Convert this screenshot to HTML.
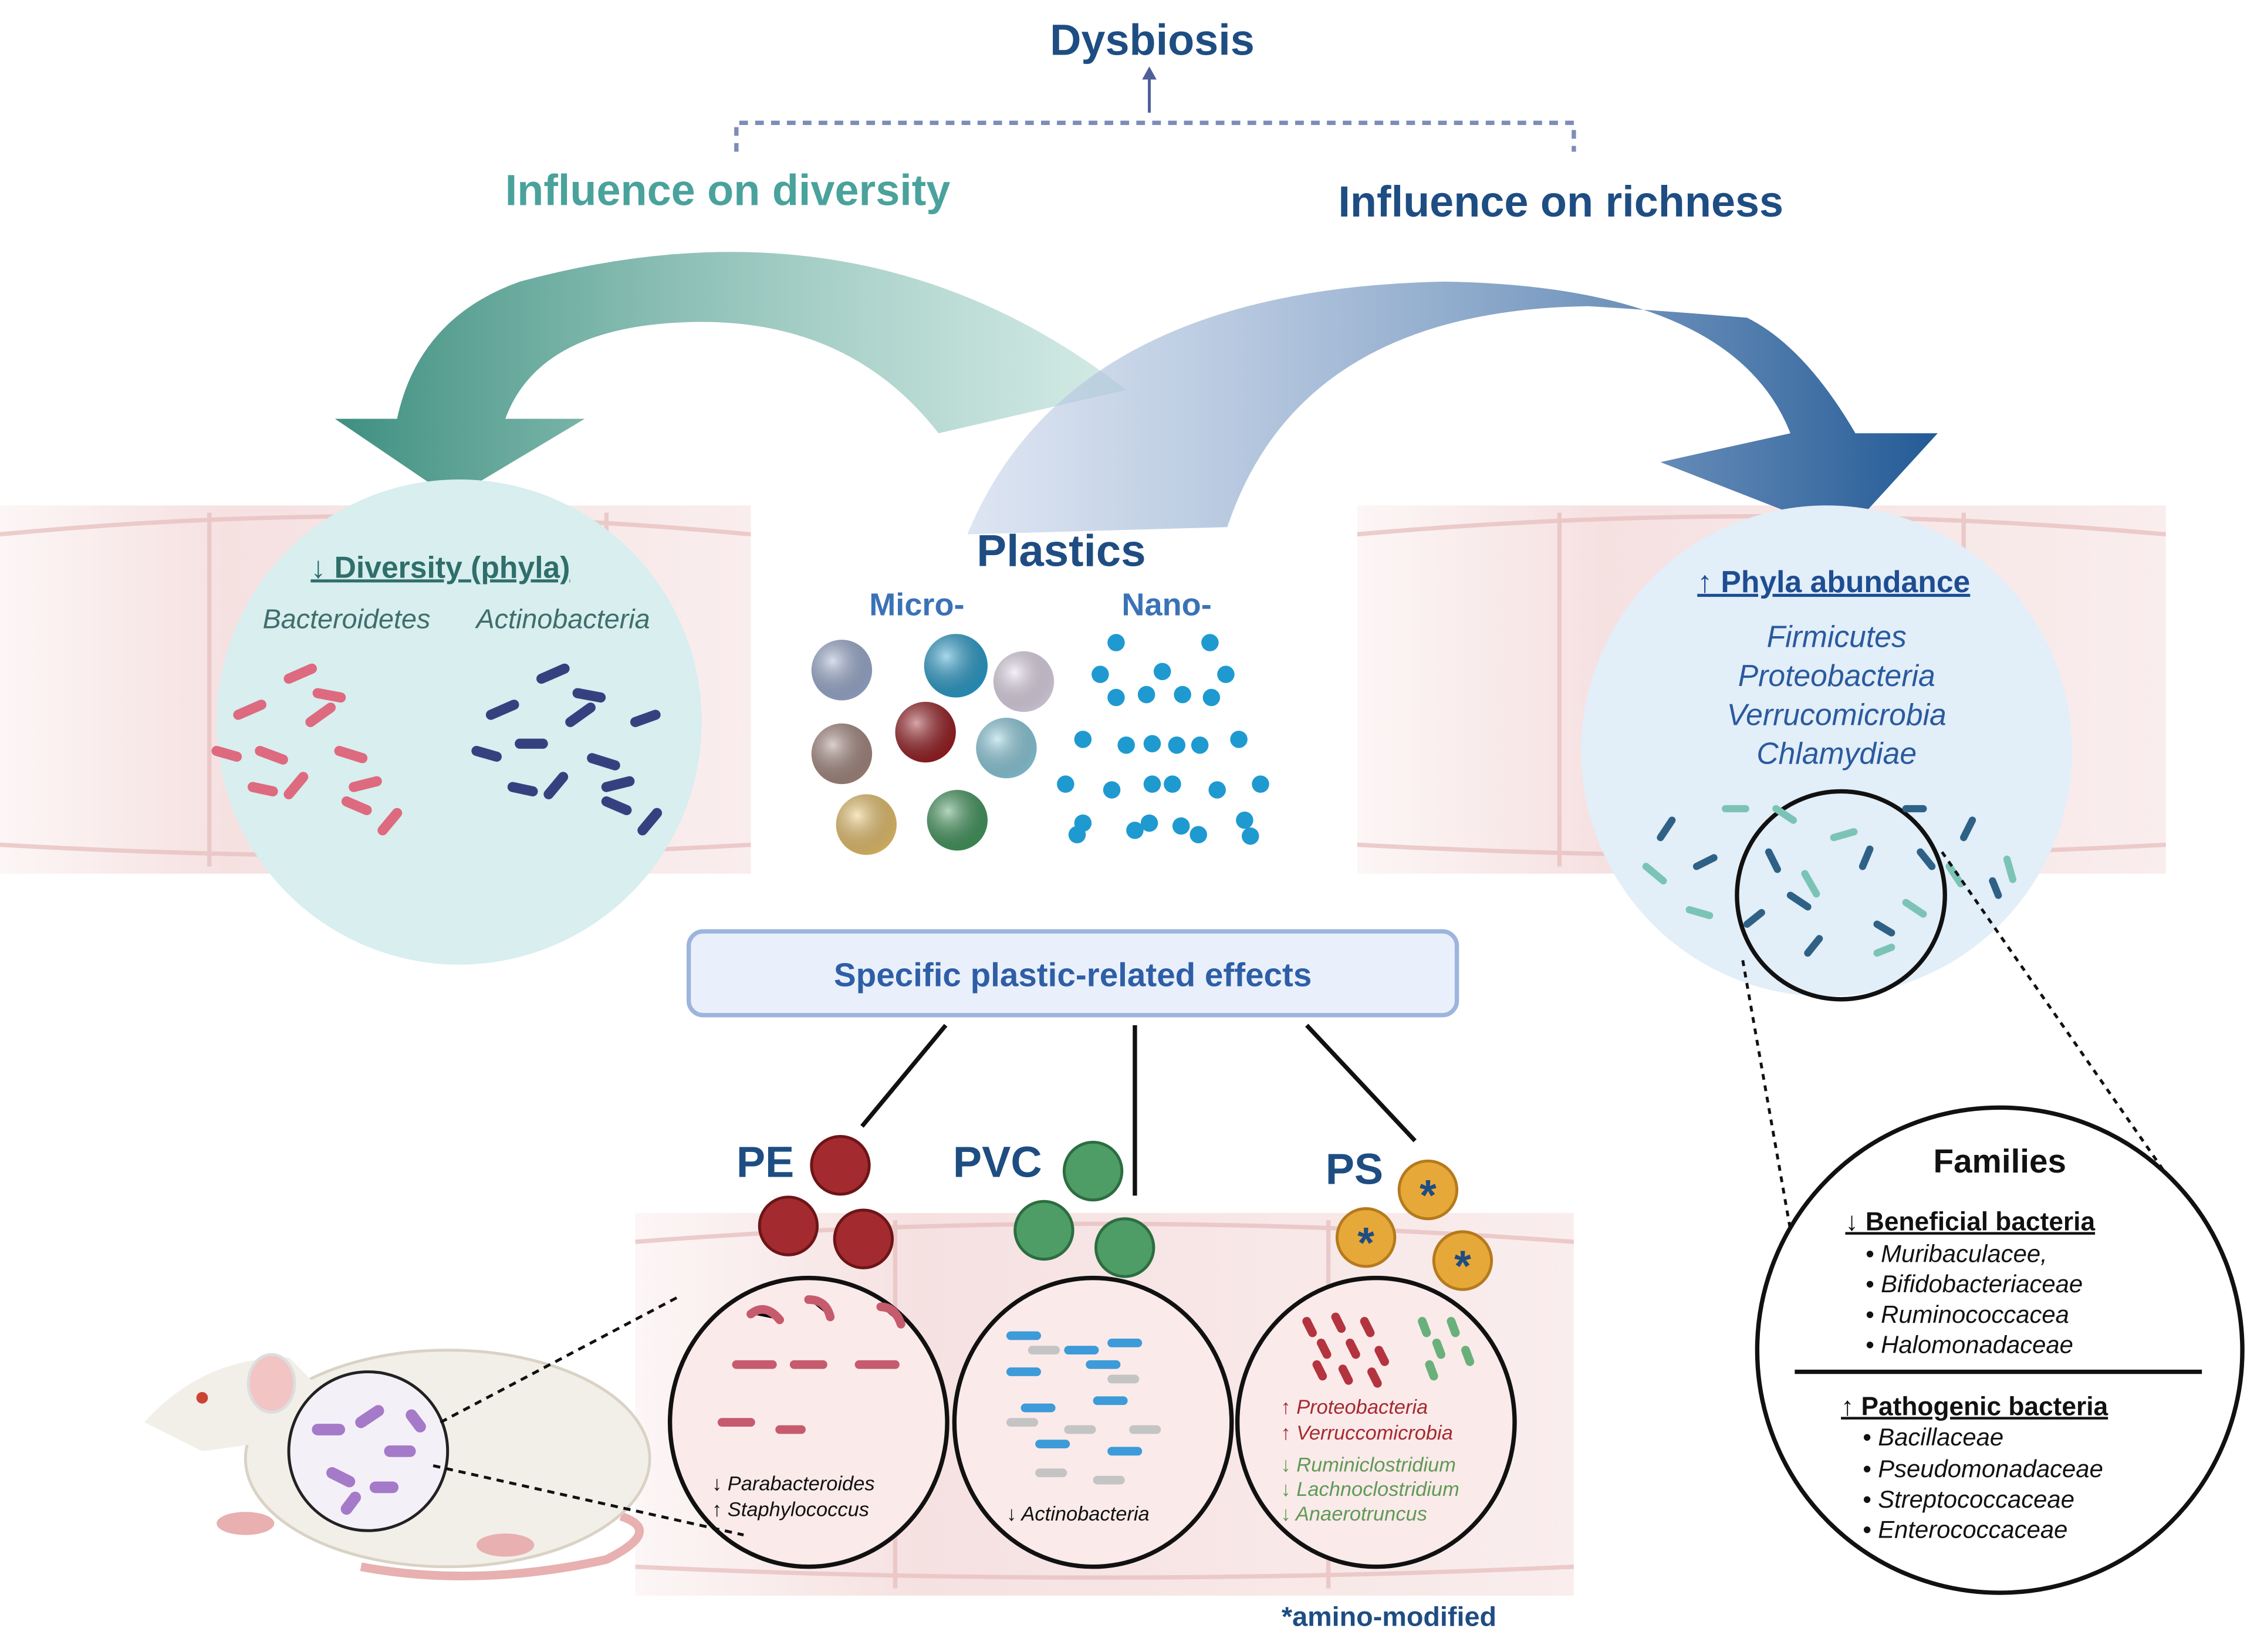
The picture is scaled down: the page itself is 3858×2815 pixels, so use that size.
<!DOCTYPE html>
<html><head><meta charset="utf-8"><style>
html,body{margin:0;padding:0;background:#fff}
svg{display:block}
text{font-family:"Liberation Sans",sans-serif}
</style></head><body>
<svg width="3858" height="2815" viewBox="0 0 1568 1144" xmlns="http://www.w3.org/2000/svg">
<defs>
<radialGradient id="gb" cx="35%" cy="35%" r="70%"><stop offset="0" stop-color="#fff" stop-opacity=".6"/><stop offset="1" stop-color="#000" stop-opacity=".15"/></radialGradient>
<linearGradient id="teal" x1="0" x2="1"><stop offset="0" stop-color="#3e8f80"/><stop offset="1" stop-color="#a9d6cc" stop-opacity=".5"/></linearGradient>
<linearGradient id="blue" x1="0" x2="1"><stop offset="0" stop-color="#c7d4ea" stop-opacity=".6"/><stop offset="1" stop-color="#235a96"/></linearGradient>
<linearGradient id="fadeL" x1="0" x2="1"><stop offset="0" stop-color="#f6e1e1" stop-opacity=".3"/><stop offset=".3" stop-color="#f6e1e1"/><stop offset="1" stop-color="#f6e1e1" stop-opacity=".6"/></linearGradient>
</defs>
<rect x="0" y="350" width="520" height="255" fill="url(#fadeL)"/>
<rect x="940" y="350" width="560" height="255" fill="url(#fadeL)"/>
<rect x="440" y="840" width="650" height="265" fill="url(#fadeL)"/>
<g stroke="#e9c2c2" stroke-width="3" fill="none" opacity=".8">
<path d="M0 370 Q260 345 520 370"/><path d="M0 585 Q260 600 520 585"/>
<path d="M940 370 Q1220 345 1500 370"/><path d="M940 585 Q1220 600 1500 585"/>
<path d="M440 860 Q760 835 1090 860"/><path d="M440 1085 Q760 1100 1090 1085"/>
<path d="M145 355 V600 M420 355 V600 M1080 355 V600 M1360 355 V600 M620 845 V1100 M920 845 V1100"/>
</g>
<text x="798" y="38" font-size="30" font-weight="bold" fill="#1e4d82" text-anchor="middle">Dysbiosis</text>
<path d="M796 78 V52" stroke="#4e5f99" stroke-width="2"/><path d="M791 55 L796 46 L801 55Z" fill="#4e5f99"/>
<path d="M510 105 V85 H1090 V105" fill="none" stroke="#7f8bb8" stroke-width="3" stroke-dasharray="6 5"/>
<text x="504" y="142" font-size="30" font-weight="bold" fill="#4aa29c" text-anchor="middle">Influence on diversity</text>
<text x="1081" y="150" font-size="30" font-weight="bold" fill="#1e4d82" text-anchor="middle">Influence on richness</text>
<path d="M780 270 Q600 130 360 195 Q290 220 275 290 L232 290 L313 345 L405 290 L350 290 Q370 235 450 225 Q580 210 650 300 Z" fill="url(#teal)"/>
<path d="M670 370 Q740 200 1000 195 Q1200 198 1240 300 L1150 320 L1278 370 L1342 300 L1285 300 Q1250 240 1210 220 Q1150 215 1100 212 Q900 215 850 365 Z" fill="url(#blue)"/>
<circle cx="318" cy="500" r="168" fill="#d8eeef"/>
<circle cx="1265" cy="520" r="170" fill="#e2eef8"/>
<text x="305" y="400" font-size="21" font-weight="bold" fill="#2f6e6b" text-anchor="middle" text-decoration="underline">↓ Diversity (phyla)</text>
<text x="240" y="435" font-size="19" font-style="italic" fill="#3f6e6c" text-anchor="middle">Bacteroidetes</text>
<text x="390" y="435" font-size="19" font-style="italic" fill="#3f6e6c" text-anchor="middle">Actinobacteria</text>
<g stroke-linecap="round" stroke-width="7">
<path d="M165 495 l16 -7 M200 470 l16 -7 M180 520 l16 6 M215 500 l14 -10 M235 520 l16 5 M200 550 l10 -12 M240 555 l14 6 M265 575 l10 -12 M150 520 l14 4 M220 480 l16 3 M245 545 l16 -4 M175 545 l14 3" stroke="#de6a7f"/>
<path d="M340 495 l16 -7 M375 470 l16 -7 M360 515 l16 0 M395 500 l14 -10 M410 525 l16 5 M380 550 l10 -12 M420 555 l14 6 M445 575 l10 -12 M330 520 l14 4 M400 480 l16 3 M420 545 l16 -4 M355 545 l14 3 M440 500 l14 -5" stroke="#33427f"/>
</g>
<text x="1270" y="410" font-size="21" font-weight="bold" fill="#1e4d92" text-anchor="middle" text-decoration="underline">↑ Phyla abundance</text>
<g font-size="21" font-style="italic" fill="#2a5a9e" text-anchor="middle">
<text x="1272" y="448">Firmicutes</text><text x="1272" y="475">Proteobacteria</text><text x="1272" y="502">Verrucomicrobia</text><text x="1272" y="529">Chlamydiae</text></g>
<circle cx="1275" cy="620" r="72" fill="none" stroke="#111" stroke-width="3"/>
<g stroke-linecap="round" stroke-width="5">
<path d="M1150 580 l8 -12 M1175 600 l12 -6 M1225 590 l6 12 M1240 620 l12 8 M1290 600 l5 -12 M1300 640 l10 6 M1330 590 l8 10 M1360 580 l6 -12 M1380 610 l4 10 M1260 650 l-8 10 M1210 640 l10 -8 M1320 560 l12 0" stroke="#2f6186"/>
<path d="M1140 600 l12 10 M1195 560 l14 0 M1230 560 l12 8 M1270 580 l14 -4 M1320 625 l12 8 M1350 600 l8 12 M1390 595 l4 14 M1250 605 l8 14 M1300 660 l10 -4 M1170 630 l14 4" stroke="#7bc4b5"/>
</g>
<path d="M1207 665 L1245 880 M1345 590 L1505 820" stroke="#111" stroke-width="2" stroke-dasharray="4 4"/>
<text x="735" y="392" font-size="31" font-weight="bold" fill="#1e4d82" text-anchor="middle">Plastics</text>
<text x="635" y="426" font-size="22" font-weight="bold" fill="#3a72b6" text-anchor="middle">Micro-</text>
<text x="808" y="426" font-size="22" font-weight="bold" fill="#3a72b6" text-anchor="middle">Nano-</text>
<g>
<circle cx="583" cy="464" r="21" fill="#9fb0d4"/><circle cx="662" cy="461" r="22" fill="#2aa0d0"/><circle cx="709" cy="472" r="21" fill="#e6dcee"/>
<circle cx="583" cy="522" r="21" fill="#a98b83"/><circle cx="641" cy="507" r="21" fill="#9b1f24"/><circle cx="697" cy="518" r="21" fill="#8fd0e3"/>
<circle cx="600" cy="571" r="21" fill="#eec66e"/><circle cx="663" cy="568" r="21" fill="#449a5f"/>
</g>
<g fill="url(#gb)"><circle cx="583" cy="464" r="21"/><circle cx="662" cy="461" r="22"/><circle cx="709" cy="472" r="21"/><circle cx="583" cy="522" r="21"/><circle cx="641" cy="507" r="21"/><circle cx="697" cy="518" r="21"/><circle cx="600" cy="571" r="21"/><circle cx="663" cy="568" r="21"/></g>
<g fill="#1f9ad0">
<circle cx="773" cy="445" r="6"/><circle cx="838" cy="445" r="6"/><circle cx="762" cy="467" r="6"/><circle cx="805" cy="465" r="6"/><circle cx="849" cy="467" r="6"/><circle cx="773" cy="483" r="6"/><circle cx="794" cy="481" r="6"/><circle cx="819" cy="481" r="6"/><circle cx="839" cy="483" r="6"/>
<circle cx="750" cy="512" r="6"/><circle cx="780" cy="516" r="6"/><circle cx="798" cy="515" r="6"/><circle cx="815" cy="516" r="6"/><circle cx="831" cy="516" r="6"/><circle cx="858" cy="512" r="6"/>
<circle cx="738" cy="543" r="6"/><circle cx="770" cy="547" r="6"/><circle cx="798" cy="543" r="6"/><circle cx="812" cy="543" r="6"/><circle cx="843" cy="547" r="6"/><circle cx="873" cy="543" r="6"/>
<circle cx="750" cy="570" r="6"/><circle cx="786" cy="575" r="6"/><circle cx="796" cy="570" r="6"/><circle cx="818" cy="572" r="6"/><circle cx="830" cy="578" r="6"/><circle cx="862" cy="568" r="6"/><circle cx="746" cy="578" r="6"/><circle cx="866" cy="579" r="6"/></g>
<rect x="477" y="645" width="532" height="58" rx="10" fill="#e9f0fb" stroke="#9db5dd" stroke-width="3"/>
<text x="743" y="683" font-size="23" font-weight="bold" fill="#2e5ea6" text-anchor="middle">Specific plastic-related effects</text>
<path d="M655 710 L597 780 M786 710 V828 M905 710 L980 790" stroke="#111" stroke-width="3"/>
<g font-size="30" font-weight="bold" fill="#1e4d82"><text x="510" y="815">PE</text><text x="660" y="815">PVC</text><text x="918" y="820">PS</text></g>
<g stroke-width="2">
<circle cx="582" cy="807" r="20" fill="#a32a2e" stroke="#6d1518"/><circle cx="546" cy="849" r="20" fill="#a32a2e" stroke="#6d1518"/><circle cx="598" cy="858" r="20" fill="#a32a2e" stroke="#6d1518"/>
<circle cx="757" cy="811" r="20" fill="#4f9d66" stroke="#2c6d41"/><circle cx="723" cy="852" r="20" fill="#4f9d66" stroke="#2c6d41"/><circle cx="779" cy="864" r="20" fill="#4f9d66" stroke="#2c6d41"/>
<circle cx="989" cy="824" r="20" fill="#e7a83a" stroke="#b57a1c"/><circle cx="946" cy="857" r="20" fill="#e7a83a" stroke="#b57a1c"/><circle cx="1013" cy="873" r="20" fill="#e7a83a" stroke="#b57a1c"/></g>
<g font-size="30" font-weight="bold" fill="#1e4d82" text-anchor="middle"><text x="989" y="838">*</text><text x="946" y="871">*</text><text x="1013" y="887">*</text></g>
<g fill="#fbeaea" stroke="#111" stroke-width="3">
<ellipse cx="560" cy="985" rx="96" ry="100"/><ellipse cx="757" cy="985" rx="96" ry="100"/><ellipse cx="953" cy="985" rx="96" ry="100"/></g>
<g stroke-linecap="round" stroke-width="6">
<path d="M520 910 q10 -8 20 4 M560 900 q12 0 15 12 M510 945 h25 M550 945 h20 M595 945 h25 M610 905 q10 0 14 12 M500 985 h20 M540 990 h15" stroke="#c65b6d"/>
<path d="M700 925 h18 M740 935 h18 M770 930 h18 M700 950 h18 M755 945 h18 M710 975 h18 M760 970 h18 M720 1000 h18 M770 1005 h18" stroke="#3c9bd8"/>
<path d="M715 935 h16 M770 955 h16 M700 985 h16 M740 990 h16 M785 990 h16 M720 1020 h16 M760 1025 h16" stroke="#c4c4c4"/>
<path d="M905 915 l4 8 M915 930 l4 8 M925 912 l4 8 M935 930 l4 8 M945 915 l4 8 M955 935 l4 8 M912 945 l4 8 M930 948 l4 8 M950 950 l4 8" stroke="#b3343e"/>
<path d="M985 915 l3 8 M995 930 l3 8 M1005 915 l3 8 M1015 935 l3 8 M990 945 l3 8" stroke="#6ab07a"/>
</g>
<g font-size="14" font-style="italic" fill="#111"><text x="493" y="1032">↓ Parabacteroides</text><text x="493" y="1050">↑  Staphylococcus</text><text x="697" y="1053">↓ Actinobacteria</text></g>
<g font-size="14" font-style="italic"><text x="887" y="979" fill="#a52a30">↑ Proteobacteria</text><text x="887" y="997" fill="#a52a30">↑ Verruccomicrobia</text>
<text x="887" y="1019" fill="#5f9a56">↓ Ruminiclostridium</text><text x="887" y="1036" fill="#5f9a56">↓ Lachnoclostridium</text><text x="887" y="1053" fill="#5f9a56">↓ Anaerotruncus</text></g>
<text x="962" y="1126" font-size="19" font-weight="bold" fill="#1e4d82" text-anchor="middle">*amino-modified</text>
<path d="M250 1085 Q330 1100 420 1080 Q460 1060 430 1050" fill="none" stroke="#e8b0b0" stroke-width="6"/>
<ellipse cx="310" cy="1010" rx="140" ry="75" fill="#f2efe9" stroke="#d9d2c5" stroke-width="2"/>
<path d="M100 985 Q140 940 200 940 L250 990 L140 1005 Z" fill="#f2efe9"/>
<ellipse cx="188" cy="958" rx="16" ry="20" fill="#f2c4c4" stroke="#ddd" stroke-width="2"/>
<circle cx="140" cy="968" r="4" fill="#c43"/>
<ellipse cx="170" cy="1055" rx="20" ry="8" fill="#e8b0b0"/><ellipse cx="350" cy="1070" rx="20" ry="8" fill="#e8b0b0"/>
<circle cx="255" cy="1005" r="55" fill="#f4f0f8" stroke="#222" stroke-width="2"/>
<g stroke="#a57ac8" stroke-width="8" stroke-linecap="round"><path d="M220 990 h15 M250 985 l12 -8 M270 1005 h14 M230 1020 l12 6 M260 1030 h12 M240 1045 l6 -8 M285 980 l6 8"/></g>
<path d="M305 985 L470 898 M300 1015 L515 1063" stroke="#111" stroke-width="2" stroke-dasharray="5 4"/>
<circle cx="1385" cy="935" r="168" fill="#fff" stroke="#111" stroke-width="3"/>
<text x="1385" y="812" font-size="23" font-weight="bold" fill="#111" text-anchor="middle">Families</text>
<text x="1278" y="852" font-size="18" font-weight="bold" fill="#111" text-decoration="underline">↓ Beneficial bacteria</text>
<g font-size="17" font-style="italic" fill="#111"><text x="1292" y="874">•  Muribaculacee,</text><text x="1292" y="895">•  Bifidobacteriaceae</text><text x="1292" y="916">•  Ruminococcacea</text><text x="1292" y="937">•   Halomonadaceae</text></g>
<path d="M1243 950 H1525" stroke="#111" stroke-width="3"/>
<text x="1275" y="980" font-size="18" font-weight="bold" fill="#111" text-decoration="underline">↑ Pathogenic bacteria</text>
<g font-size="17" font-style="italic" fill="#111"><text x="1290" y="1001">•  Bacillaceae</text><text x="1290" y="1023">•  Pseudomonadaceae</text><text x="1290" y="1044">•  Streptococcaceae</text><text x="1290" y="1065">•  Enterococcaceae</text></g>
</svg>
</body></html>
